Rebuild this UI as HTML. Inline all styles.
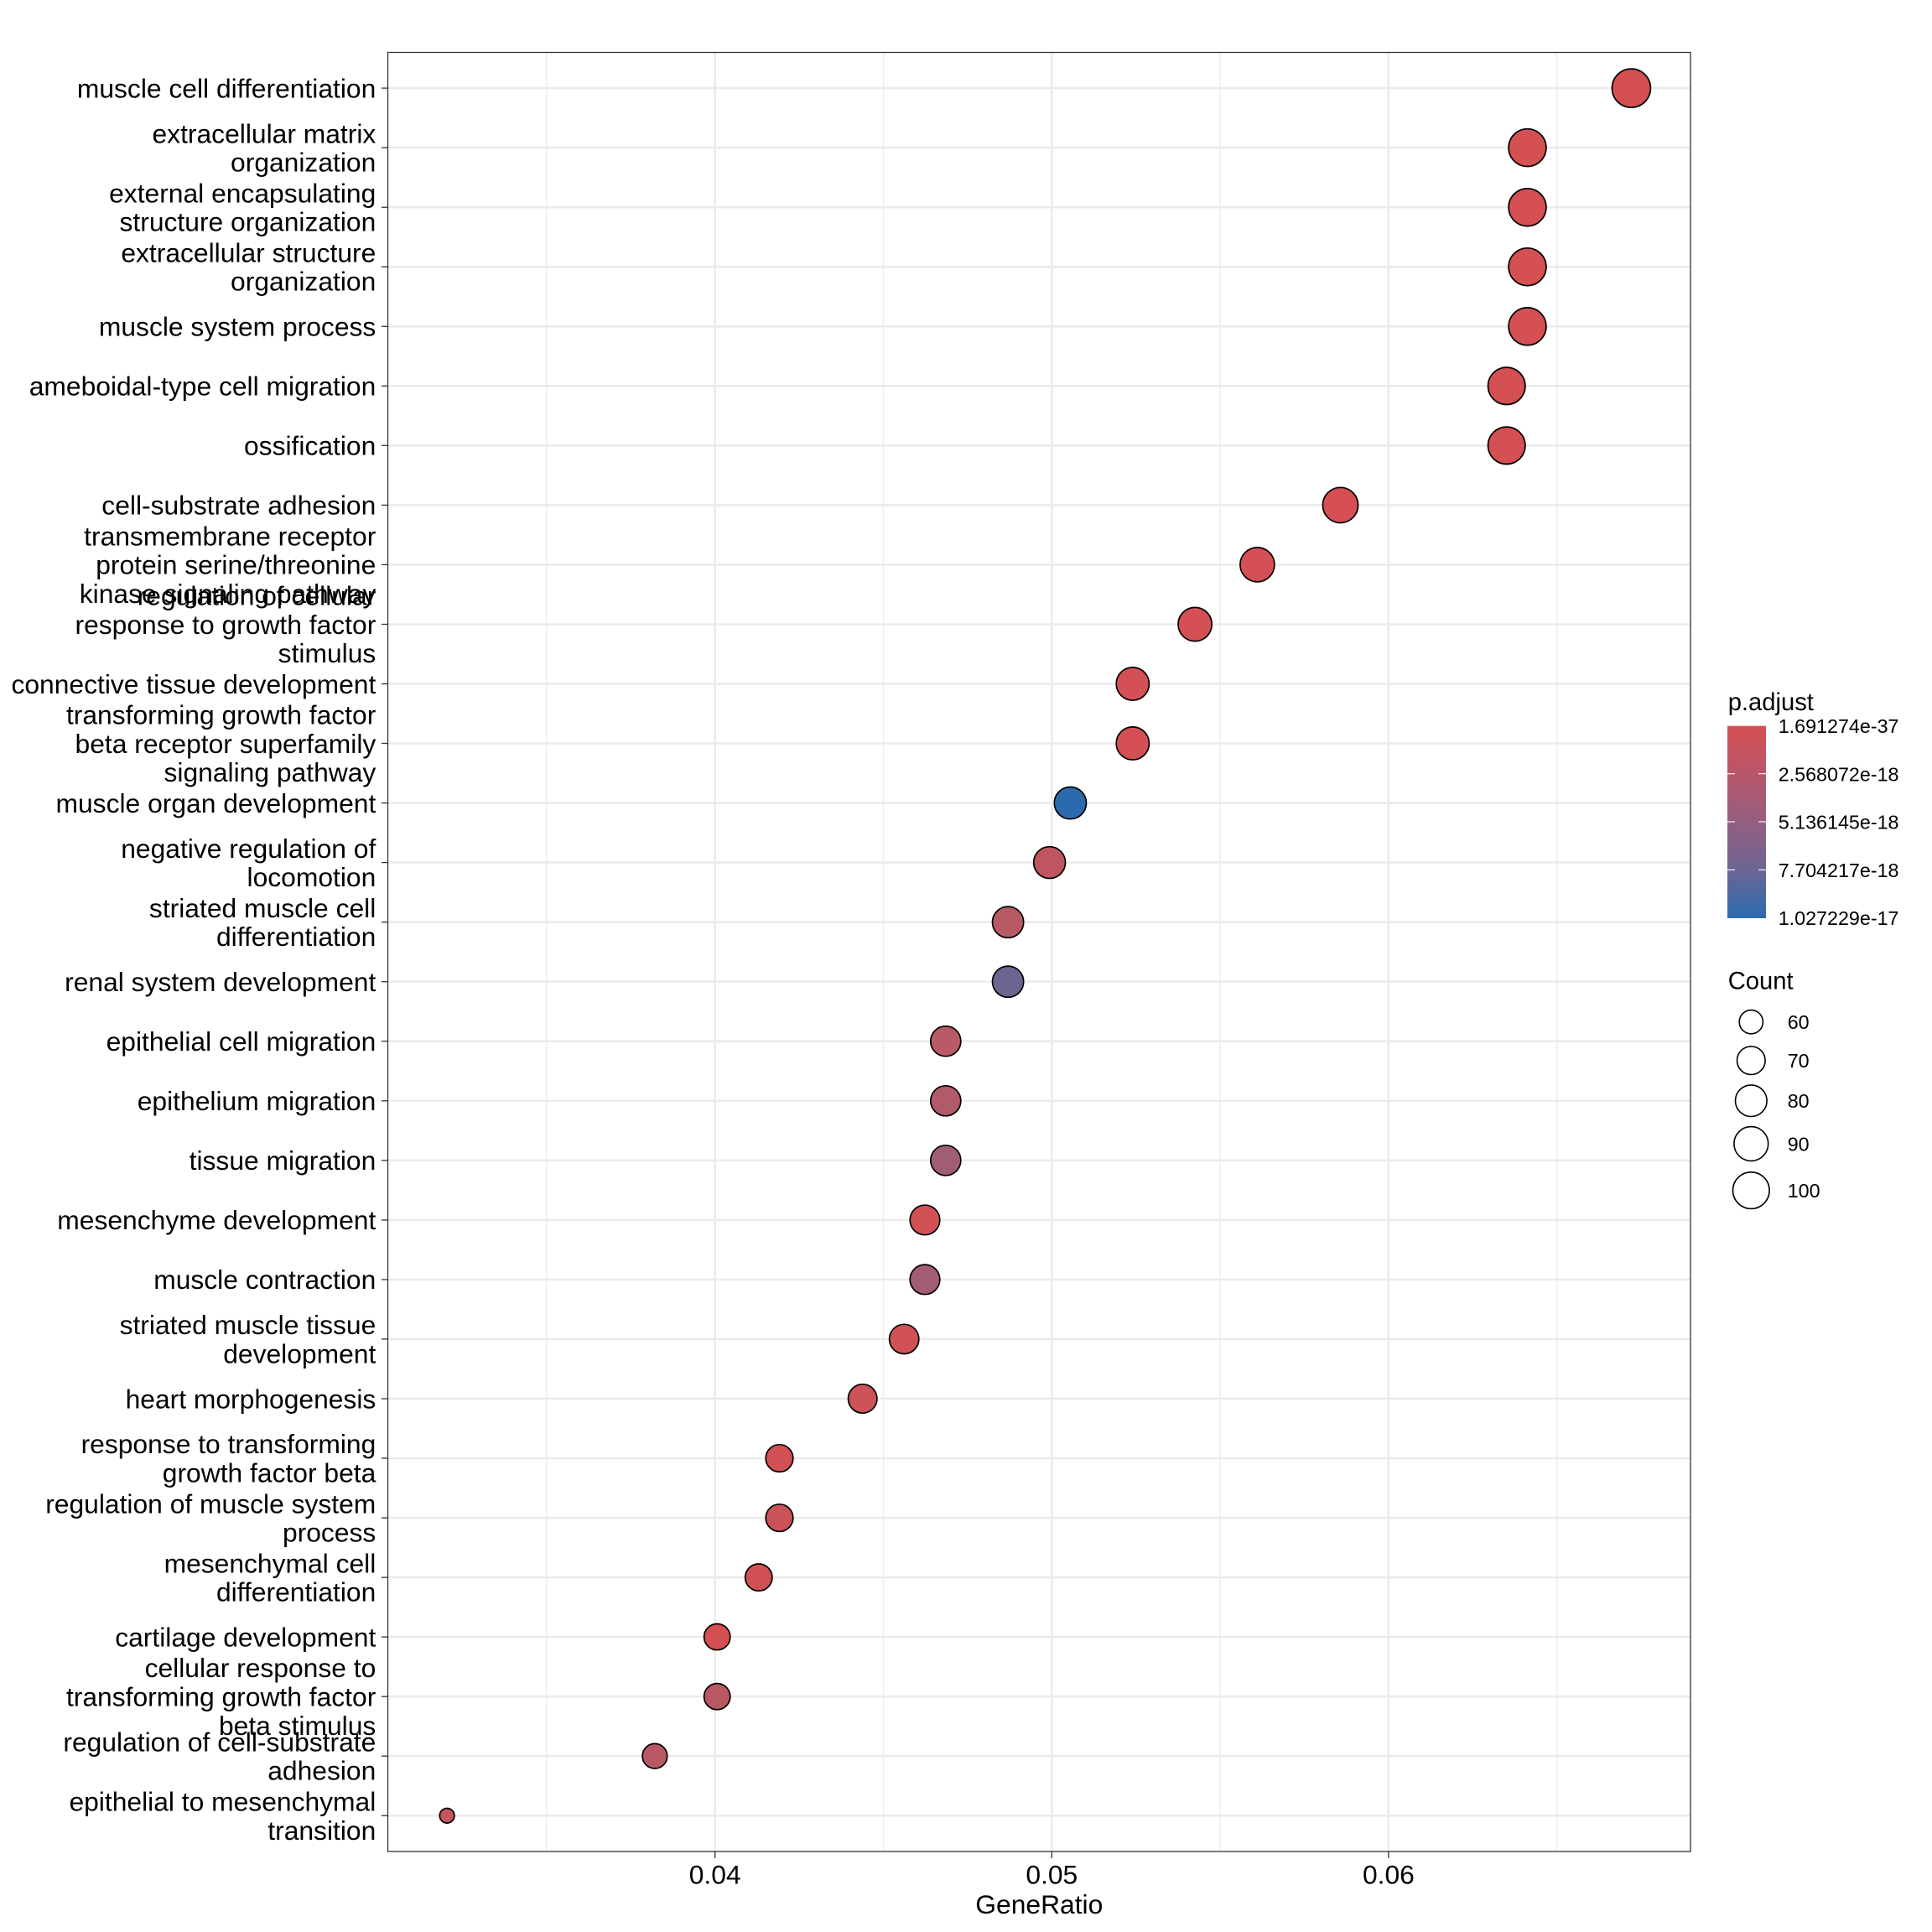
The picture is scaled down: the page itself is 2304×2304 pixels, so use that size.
<!DOCTYPE html>
<html><head><meta charset="utf-8"><style>
html,body{margin:0;padding:0;background:#fff;}
svg{display:block;}
text{font-family:"Liberation Sans",Arial,sans-serif;fill:#000;}
</style></head><body>
<svg width="2304" height="2304" viewBox="0 0 2304 2304" xmlns="http://www.w3.org/2000/svg">
<defs>
<linearGradient id="cb" x1="0" y1="0" x2="0" y2="1">
<stop offset="0" stop-color="#D55053"/>
<stop offset="0.25" stop-color="#B8566A"/>
<stop offset="0.5" stop-color="#955E80"/>
<stop offset="0.75" stop-color="#6C6594"/>
<stop offset="1" stop-color="#2B6BAD"/>
</linearGradient>
</defs>
<rect x="0" y="0" width="2304" height="2304" fill="#fff"/>
<g stroke="#EBEBEB" stroke-width="1.3">
<line x1="651.7" y1="62.5" x2="651.7" y2="2208"/>
<line x1="1053.5" y1="62.5" x2="1053.5" y2="2208"/>
<line x1="1455.1" y1="62.5" x2="1455.1" y2="2208"/>
<line x1="1856.7" y1="62.5" x2="1856.7" y2="2208"/>
</g>
<g stroke="#EBEBEB" stroke-width="2.6">
<line x1="852.7" y1="62.5" x2="852.7" y2="2208"/>
<line x1="1254.3" y1="62.5" x2="1254.3" y2="2208"/>
<line x1="1655.9" y1="62.5" x2="1655.9" y2="2208"/>
</g>
<g stroke="#EBEBEB" stroke-width="2.6">
<line x1="462.5" x2="2016" y1="105.1" y2="105.1"/>
<line x1="462.5" x2="2016" y1="176.1" y2="176.1"/>
<line x1="462.5" x2="2016" y1="247.2" y2="247.2"/>
<line x1="462.5" x2="2016" y1="318.2" y2="318.2"/>
<line x1="462.5" x2="2016" y1="389.3" y2="389.3"/>
<line x1="462.5" x2="2016" y1="460.3" y2="460.3"/>
<line x1="462.5" x2="2016" y1="531.3" y2="531.3"/>
<line x1="462.5" x2="2016" y1="602.4" y2="602.4"/>
<line x1="462.5" x2="2016" y1="673.4" y2="673.4"/>
<line x1="462.5" x2="2016" y1="744.5" y2="744.5"/>
<line x1="462.5" x2="2016" y1="815.5" y2="815.5"/>
<line x1="462.5" x2="2016" y1="886.5" y2="886.5"/>
<line x1="462.5" x2="2016" y1="957.6" y2="957.6"/>
<line x1="462.5" x2="2016" y1="1028.6" y2="1028.6"/>
<line x1="462.5" x2="2016" y1="1099.7" y2="1099.7"/>
<line x1="462.5" x2="2016" y1="1170.7" y2="1170.7"/>
<line x1="462.5" x2="2016" y1="1241.7" y2="1241.7"/>
<line x1="462.5" x2="2016" y1="1312.8" y2="1312.8"/>
<line x1="462.5" x2="2016" y1="1383.8" y2="1383.8"/>
<line x1="462.5" x2="2016" y1="1454.9" y2="1454.9"/>
<line x1="462.5" x2="2016" y1="1525.9" y2="1525.9"/>
<line x1="462.5" x2="2016" y1="1596.9" y2="1596.9"/>
<line x1="462.5" x2="2016" y1="1668.0" y2="1668.0"/>
<line x1="462.5" x2="2016" y1="1739.0" y2="1739.0"/>
<line x1="462.5" x2="2016" y1="1810.1" y2="1810.1"/>
<line x1="462.5" x2="2016" y1="1881.1" y2="1881.1"/>
<line x1="462.5" x2="2016" y1="1952.1" y2="1952.1"/>
<line x1="462.5" x2="2016" y1="2023.2" y2="2023.2"/>
<line x1="462.5" x2="2016" y1="2094.2" y2="2094.2"/>
<line x1="462.5" x2="2016" y1="2165.3" y2="2165.3"/>
</g>
<g stroke="#000" stroke-width="1.7">
<circle cx="1945.4" cy="105.1" r="23.0" fill="#D55053"/>
<circle cx="1821.5" cy="176.1" r="22.4" fill="#D55053"/>
<circle cx="1821.5" cy="247.2" r="22.4" fill="#D55053"/>
<circle cx="1821.5" cy="318.2" r="22.4" fill="#D55053"/>
<circle cx="1821.5" cy="389.3" r="22.4" fill="#D55053"/>
<circle cx="1796.7" cy="460.3" r="22.2" fill="#D55053"/>
<circle cx="1796.7" cy="531.3" r="22.2" fill="#D55053"/>
<circle cx="1598.5" cy="602.4" r="21.1" fill="#D55053"/>
<circle cx="1499.4" cy="673.4" r="20.5" fill="#D45054"/>
<circle cx="1425.1" cy="744.5" r="20.1" fill="#D45054"/>
<circle cx="1350.8" cy="815.5" r="19.6" fill="#D45054"/>
<circle cx="1350.8" cy="886.5" r="19.6" fill="#D45054"/>
<circle cx="1276.4" cy="957.6" r="19.1" fill="#2B6BAD"/>
<circle cx="1251.6" cy="1028.6" r="18.9" fill="#C0555F"/>
<circle cx="1202.1" cy="1099.7" r="18.6" fill="#B85A66"/>
<circle cx="1202.1" cy="1170.7" r="18.6" fill="#6A6690"/>
<circle cx="1127.8" cy="1241.7" r="18.0" fill="#B95A66"/>
<circle cx="1127.8" cy="1312.8" r="18.0" fill="#B05A6A"/>
<circle cx="1127.8" cy="1383.8" r="18.0" fill="#A05E76"/>
<circle cx="1103.0" cy="1454.9" r="17.8" fill="#D05255"/>
<circle cx="1103.0" cy="1525.9" r="17.8" fill="#A35C72"/>
<circle cx="1078.2" cy="1596.9" r="17.6" fill="#D15155"/>
<circle cx="1028.7" cy="1668.0" r="17.2" fill="#CC5357"/>
<circle cx="929.5" cy="1739.0" r="16.3" fill="#D25154"/>
<circle cx="929.5" cy="1810.1" r="16.3" fill="#C95359"/>
<circle cx="904.8" cy="1881.1" r="16.1" fill="#D05154"/>
<circle cx="855.2" cy="1952.1" r="15.6" fill="#D55053"/>
<circle cx="855.2" cy="2023.2" r="15.6" fill="#B95863"/>
<circle cx="780.9" cy="2094.2" r="14.8" fill="#B85865"/>
<circle cx="533.1" cy="2165.3" r="8.8" fill="#C2555E"/>
</g>
<rect x="462.5" y="62.5" width="1553.5" height="2145.5" fill="none" stroke="#333333" stroke-width="1.3"/>
<g stroke="#333333" stroke-width="1.3">
<line x1="455" x2="462.5" y1="105.1" y2="105.1"/>
<line x1="455" x2="462.5" y1="176.1" y2="176.1"/>
<line x1="455" x2="462.5" y1="247.2" y2="247.2"/>
<line x1="455" x2="462.5" y1="318.2" y2="318.2"/>
<line x1="455" x2="462.5" y1="389.3" y2="389.3"/>
<line x1="455" x2="462.5" y1="460.3" y2="460.3"/>
<line x1="455" x2="462.5" y1="531.3" y2="531.3"/>
<line x1="455" x2="462.5" y1="602.4" y2="602.4"/>
<line x1="455" x2="462.5" y1="673.4" y2="673.4"/>
<line x1="455" x2="462.5" y1="744.5" y2="744.5"/>
<line x1="455" x2="462.5" y1="815.5" y2="815.5"/>
<line x1="455" x2="462.5" y1="886.5" y2="886.5"/>
<line x1="455" x2="462.5" y1="957.6" y2="957.6"/>
<line x1="455" x2="462.5" y1="1028.6" y2="1028.6"/>
<line x1="455" x2="462.5" y1="1099.7" y2="1099.7"/>
<line x1="455" x2="462.5" y1="1170.7" y2="1170.7"/>
<line x1="455" x2="462.5" y1="1241.7" y2="1241.7"/>
<line x1="455" x2="462.5" y1="1312.8" y2="1312.8"/>
<line x1="455" x2="462.5" y1="1383.8" y2="1383.8"/>
<line x1="455" x2="462.5" y1="1454.9" y2="1454.9"/>
<line x1="455" x2="462.5" y1="1525.9" y2="1525.9"/>
<line x1="455" x2="462.5" y1="1596.9" y2="1596.9"/>
<line x1="455" x2="462.5" y1="1668.0" y2="1668.0"/>
<line x1="455" x2="462.5" y1="1739.0" y2="1739.0"/>
<line x1="455" x2="462.5" y1="1810.1" y2="1810.1"/>
<line x1="455" x2="462.5" y1="1881.1" y2="1881.1"/>
<line x1="455" x2="462.5" y1="1952.1" y2="1952.1"/>
<line x1="455" x2="462.5" y1="2023.2" y2="2023.2"/>
<line x1="455" x2="462.5" y1="2094.2" y2="2094.2"/>
<line x1="455" x2="462.5" y1="2165.3" y2="2165.3"/>
</g>
<g stroke="#333333" stroke-width="1.3">
<line x1="852.7" x2="852.7" y1="2208" y2="2216"/>
<line x1="1254.3" x2="1254.3" y1="2208" y2="2216"/>
<line x1="1655.9" x2="1655.9" y1="2208" y2="2216"/>
</g>
<g font-size="31.8" text-anchor="end">
<text x="448.3" y="116.4">muscle cell differentiation</text>
<text x="448.3" y="170.3">extracellular matrix</text>
<text x="448.3" y="204.6">organization</text>
<text x="448.3" y="241.4">external encapsulating</text>
<text x="448.3" y="275.7">structure organization</text>
<text x="448.3" y="312.4">extracellular structure</text>
<text x="448.3" y="346.7">organization</text>
<text x="448.3" y="400.6">muscle system process</text>
<text x="448.3" y="471.6">ameboidal-type cell migration</text>
<text x="448.3" y="542.6">ossification</text>
<text x="448.3" y="613.7">cell-substrate adhesion</text>
<text x="448.3" y="650.4">transmembrane receptor</text>
<text x="448.3" y="684.7">protein serine/threonine</text>
<text x="448.3" y="719.0">kinase signaling pathway</text>
<text x="448.3" y="721.5">regulation of cellular</text>
<text x="448.3" y="755.8">response to growth factor</text>
<text x="448.3" y="790.1">stimulus</text>
<text x="448.3" y="826.8">connective tissue development</text>
<text x="448.3" y="863.5">transforming growth factor</text>
<text x="448.3" y="897.8">beta receptor superfamily</text>
<text x="448.3" y="932.1">signaling pathway</text>
<text x="448.3" y="968.9">muscle organ development</text>
<text x="448.3" y="1022.8">negative regulation of</text>
<text x="448.3" y="1057.1">locomotion</text>
<text x="448.3" y="1093.9">striated muscle cell</text>
<text x="448.3" y="1128.2">differentiation</text>
<text x="448.3" y="1182.0">renal system development</text>
<text x="448.3" y="1253.0">epithelial cell migration</text>
<text x="448.3" y="1324.1">epithelium migration</text>
<text x="448.3" y="1395.1">tissue migration</text>
<text x="448.3" y="1466.2">mesenchyme development</text>
<text x="448.3" y="1537.2">muscle contraction</text>
<text x="448.3" y="1591.1">striated muscle tissue</text>
<text x="448.3" y="1625.4">development</text>
<text x="448.3" y="1679.3">heart morphogenesis</text>
<text x="448.3" y="1733.2">response to transforming</text>
<text x="448.3" y="1767.5">growth factor beta</text>
<text x="448.3" y="1804.3">regulation of muscle system</text>
<text x="448.3" y="1838.6">process</text>
<text x="448.3" y="1875.3">mesenchymal cell</text>
<text x="448.3" y="1909.6">differentiation</text>
<text x="448.3" y="1963.4">cartilage development</text>
<text x="448.3" y="2000.2">cellular response to</text>
<text x="448.3" y="2034.5">transforming growth factor</text>
<text x="448.3" y="2068.8">beta stimulus</text>
<text x="448.3" y="2088.4">regulation of cell-substrate</text>
<text x="448.3" y="2122.7">adhesion</text>
<text x="448.3" y="2159.5">epithelial to mesenchymal</text>
<text x="448.3" y="2193.8">transition</text>
</g>
<g font-size="31.8" text-anchor="middle">
<text x="852.7" y="2246.7">0.04</text>
<text x="1254.3" y="2246.7">0.05</text>
<text x="1655.9" y="2246.7">0.06</text>
<text x="1239.3" y="2282">GeneRatio</text>
</g>
<text x="2060.7" y="847" font-size="29.2">p.adjust</text>
<rect x="2060" y="865.7" width="46" height="229.3" fill="url(#cb)"/>
<g stroke="#ffffff" stroke-width="1.1">
<line x1="2060" x2="2069" y1="922.7" y2="922.7"/>
<line x1="2097" x2="2106" y1="922.7" y2="922.7"/>
<line x1="2060" x2="2069" y1="980" y2="980"/>
<line x1="2097" x2="2106" y1="980" y2="980"/>
<line x1="2060" x2="2069" y1="1037.3" y2="1037.3"/>
<line x1="2097" x2="2106" y1="1037.3" y2="1037.3"/>
</g>
<g font-size="23.3">
<text x="2120.7" y="874">1.691274e-37</text>
<text x="2120.7" y="931.3">2.568072e-18</text>
<text x="2120.7" y="988.6">5.136145e-18</text>
<text x="2120.7" y="1045.9">7.704217e-18</text>
<text x="2120.7" y="1103.2">1.027229e-17</text>
</g>
<text x="2060.7" y="1179.3" font-size="29.2">Count</text>
<g fill="none" stroke="#000" stroke-width="1.6">
<circle cx="2088.3" cy="1218.7" r="14.1"/>
<circle cx="2088.3" cy="1264.7" r="16.8"/>
<circle cx="2088.3" cy="1312.7" r="18.8"/>
<circle cx="2088.3" cy="1364" r="20.4"/>
<circle cx="2088.3" cy="1419.6" r="21.8"/>
</g>
<g font-size="23.3">
<text x="2131.7" y="1227.2">60</text>
<text x="2131.7" y="1273.2">70</text>
<text x="2131.7" y="1321.2">80</text>
<text x="2131.7" y="1372.5">90</text>
<text x="2131.7" y="1428.1">100</text>
</g>
</svg>
</body></html>
